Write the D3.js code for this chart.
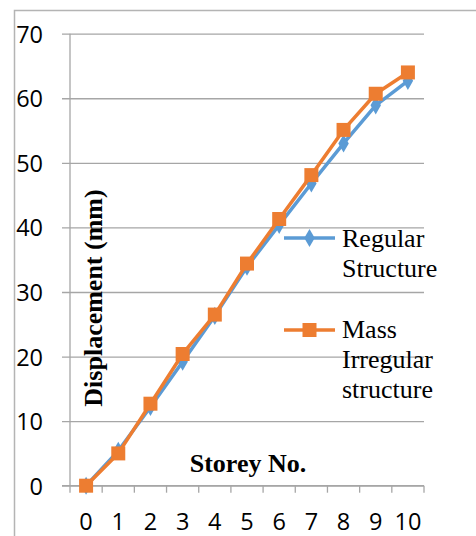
<!DOCTYPE html>
<html>
<head>
<meta charset="utf-8">
<script src="https://cdn.jsdelivr.net/npm/d3@7"></script>
<style>
  html, body { margin: 0; padding: 0; background: #fff; }
  svg { display: block; }
</style>
</head>
<body>
<svg id="chart" width="476" height="536"></svg>
<script>
// Storey-wise displacement for the two building models
const storeys = ["0", "1", "2", "3", "4", "5", "6", "7", "8", "9", "10"];
const regularStructure = [0, 5.4, 12.2, 19.2, 26.3, 33.9, 40.4, 46.8, 53.0, 58.9, 62.7];
const massIrregular   = [0, 5.0, 12.7, 20.4, 26.5, 34.4, 41.3, 48.1, 55.1, 60.7, 64.0];
const yTicks = [0, 10, 20, 30, 40, 50, 60, 70];

const seriesNames = ["Regular Structure", "Mass Irregular structure"];
const legendLines = [["Regular", "Structure"], ["Mass", "Irregular", "structure"]];

const svg = d3.select("#chart");
const plot = { left: 70, right: 424, top: 33.7, bottom: 485.7 };
const gridColor = "#a6a6a6";
const blue = "#5b9bd5", orange = "#ed7d31";
const sans = "'Open Sans', 'Liberation Sans', sans-serif";
const serif = "'Liberation Serif', 'Times New Roman', serif";

// Outer chart frame
svg.append("rect")
  .attr("x", 14.5).attr("y", 10.5)
  .attr("width", 480).attr("height", 540)
  .attr("fill", "none").attr("stroke", "#b4b4b4").attr("stroke-width", 1.5);

const x = d3.scaleBand().domain(storeys).range([plot.left, plot.right]).padding(0);
const y = d3.scaleLinear().domain([0, 70]).range([plot.bottom, plot.top]);

// Horizontal gridlines with outward ticks and value labels
const yAxis = d3.axisLeft(y).tickValues(yTicks).tickSize(-(plot.right - plot.left)).tickPadding(0);
const gy = svg.append("g").attr("transform", `translate(${plot.left},0)`).call(yAxis);
gy.select(".domain").remove();
gy.selectAll(".tick line")
  .attr("x1", -8).attr("stroke", gridColor).attr("stroke-width", 1.3);
gy.selectAll(".tick text")
  .attr("x", -27).attr("dy", "0.36em")
  .attr("fill", "#000")
  .style("font-family", sans)
  .style("font-size", "23.5px");

// Vertical axis line
svg.append("line")
  .attr("x1", plot.left).attr("x2", plot.left)
  .attr("y1", plot.top).attr("y2", plot.bottom)
  .attr("stroke", gridColor).attr("stroke-width", 1.3);

// Category axis: ticks sit on band boundaries, labels at band centres
const gx = svg.append("g").attr("transform", `translate(0,${plot.bottom})`);
gx.append("line")
  .attr("x1", plot.left - 8).attr("x2", plot.right)
  .attr("stroke", gridColor).attr("stroke-width", 1.3);
const boundaries = storeys.map(s => x(s)).concat([x(storeys[storeys.length - 1]) + x.bandwidth()]);
gx.selectAll("line.tk").data(boundaries).join("line")
  .attr("class", "tk")
  .attr("x1", d => d).attr("x2", d => d)
  .attr("y1", 0).attr("y2", 7)
  .attr("stroke", gridColor).attr("stroke-width", 1.3);
gx.selectAll("text").data(storeys).join("text")
  .attr("x", d => x(d) + x.bandwidth() / 2)
  .attr("y", 44)
  .attr("text-anchor", "middle")
  .style("font-family", sans)
  .style("font-size", "23.5px")
  .text(d => d);

// Axis titles
svg.append("text")
  .attr("transform", `translate(102,298) rotate(-90)`)
  .attr("text-anchor", "middle")
  .style("font-family", serif)
  .style("font-weight", "bold")
  .style("font-size", "26px")
  .text("Displacement (mm)");

svg.append("text")
  .attr("x", 248).attr("y", 472)
  .attr("text-anchor", "middle")
  .style("font-family", serif)
  .style("font-weight", "bold")
  .style("font-size", "26px")
  .text("Storey No.");

// Series lines and markers
const cx = (d, i) => x(storeys[i]) + x.bandwidth() / 2;
const line = d3.line().x(cx).y(d => y(d));

const diamond = d3.symbol().type(d3.symbolDiamond).size(95);
const square = d3.symbol().type(d3.symbolSquare).size(196);

function drawSeries(values, color, symbol) {
  const g = svg.append("g");
  g.append("path").datum(values)
    .attr("d", line)
    .attr("fill", "none").attr("stroke", color)
    .attr("stroke-width", 3.5).attr("stroke-linejoin", "round");
  g.selectAll("path.m").data(values).join("path")
    .attr("class", "m")
    .attr("d", symbol)
    .attr("transform", (d, i) => `translate(${cx(d, i)},${y(d)})`)
    .attr("fill", color);
}
drawSeries(regularStructure, blue, diamond);
drawSeries(massIrregular, orange, square);

// Legend
const legend = [
  { color: blue, symbol: diamond, lineY: 238, textY: 247, lines: legendLines[0] },
  { color: orange, symbol: square, lineY: 330, textY: 338, lines: legendLines[1] }
];
legend.forEach(item => {
  const g = svg.append("g");
  g.append("line")
    .attr("x1", 284).attr("x2", 335)
    .attr("y1", item.lineY).attr("y2", item.lineY)
    .attr("stroke", item.color).attr("stroke-width", 3.5);
  g.append("path")
    .attr("d", item.symbol)
    .attr("transform", `translate(309.5,${item.lineY})`)
    .attr("fill", item.color);
  g.selectAll("text").data(item.lines).join("text")
    .attr("x", 342)
    .attr("y", (d, i) => item.textY + i * 30)
    .style("font-family", serif)
    .style("font-size", "26px")
    .text(d => d);
});
</script>
</body>
</html>
